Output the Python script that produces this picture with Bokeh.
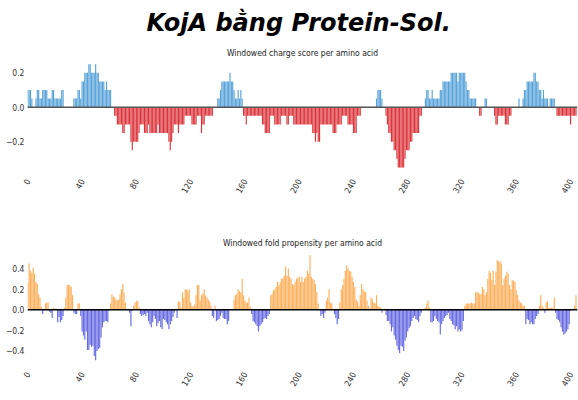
import math
from bokeh.plotting import figure
from bokeh.models import Title, FixedTicker, Span, ColumnDataSource, Range1d
from bokeh.layouts import column
from bokeh.embed import file_html
from bokeh.resources import INLINE

# ---------------- data ----------------
residues = list(range(405))

charge = [
    0.1, 0.1, 0.1, 0.05, 0, 0, 0.05, 0.1, 0.1, 0.05, 0.05, 0.1, 0.1, 0.1, 0.1, 0.05, 0.05, 0.05, 0.1, 0.1,
    0.05, 0.05, 0.05, 0.05, 0.05, 0.1, 0.1, 0, 0, 0, 0, 0, 0, 0, 0.05, 0.05, 0.05, 0.1, 0.1, 0.05,
    0.15, 0.15, 0.2, 0.2, 0.2, 0.25, 0.25, 0.2, 0.2, 0.2, 0.25, 0.2, 0.2, 0.15, 0.15, 0.15, 0.15, 0.1, 0.15, 0.1,
    0.1, 0.1, 0, 0, -0.05, -0.05, -0.1, -0.1, -0.1, -0.1, -0.15, -0.15, -0.1, -0.1, -0.1, -0.1, -0.2, -0.25, -0.2, -0.2,
    -0.2, -0.2, -0.15, -0.1, -0.1, -0.1, -0.15, -0.15, -0.15, -0.1, -0.15, -0.15, -0.15, -0.15, -0.15, -0.15, -0.1, -0.15, -0.15, -0.15,
    -0.15, -0.15, -0.15, -0.15, -0.2, -0.25, -0.2, -0.15, -0.1, -0.1, -0.1, -0.15, -0.1, -0.1, -0.1, -0.1, -0.05, -0.05, -0.05, -0.05,
    -0.05, -0.1, -0.1, -0.1, -0.1, -0.05, -0.05, -0.05, -0.15, -0.1, -0.1, -0.05, -0.05, -0.05, -0.05, -0.05, -0.05, 0, 0, 0,
    0.05, 0.05, 0.1, 0.15, 0.15, 0.15, 0.15, 0.15, 0.15, 0.2, 0.15, 0.15, 0.1, 0.05, 0.05, 0.1, 0.05, 0.1, 0.05, -0.05,
    -0.05, -0.1, -0.05, -0.05, -0.05, -0.05, -0.05, -0.05, -0.05, -0.05, -0.05, -0.05, -0.05, -0.1, -0.1, -0.15, -0.15, -0.15, -0.15, -0.05,
    -0.05, -0.05, -0.1, -0.1, -0.1, -0.1, -0.1, -0.05, -0.05, -0.05, -0.05, -0.1, -0.1, -0.05, -0.05, -0.05, -0.1, -0.1, -0.1, -0.1,
    -0.1, -0.1, -0.1, -0.1, -0.1, -0.1, -0.1, -0.1, -0.1, -0.1, -0.15, -0.15, -0.2, -0.15, -0.2, -0.2, -0.1, -0.1, -0.1, -0.1,
    -0.1, -0.1, -0.1, -0.1, -0.1, -0.15, -0.15, -0.15, -0.1, -0.1, -0.1, -0.1, -0.05, -0.05, -0.05, -0.05, -0.1, -0.1, -0.1, -0.1,
    -0.15, -0.15, -0.15, -0.05, -0.05, -0.05, 0, 0, 0, 0, 0, 0, 0, 0, 0, 0, 0, 0.05, 0.1, 0.1,
    0.1, 0.05, 0, 0, -0.05, -0.1, -0.15, -0.15, -0.2, -0.2, -0.25, -0.25, -0.3, -0.35, -0.35, -0.35, -0.35, -0.35, -0.3, -0.25,
    -0.25, -0.25, -0.2, -0.2, -0.15, -0.15, -0.15, -0.15, -0.15, -0.05, -0.05, 0, 0, 0.05, 0.1, 0.1, 0.05, 0.05, 0.1, 0.05,
    0.05, 0.05, 0.05, 0.05, 0.1, 0.1, 0.15, 0.15, 0.15, 0.15, 0.15, 0.15, 0.2, 0.2, 0.2, 0.2, 0.2, 0.15, 0.2, 0.2,
    0.2, 0.2, 0.2, 0.15, 0.1, 0.1, 0.05, 0.05, 0.05, 0.05, 0.05, 0, 0, -0.05, -0.05, 0, 0, 0.05, 0.05, 0,
    0, 0, 0, 0, -0.05, -0.1, -0.1, -0.05, -0.05, -0.05, -0.05, -0.05, -0.1, -0.1, -0.1, -0.05, -0.05, 0, 0, 0,
    0, 0, 0.05, 0, 0, 0.05, 0.1, 0.1, 0.15, 0.15, 0.15, 0.15, 0.15, 0.2, 0.2, 0.15, 0.15, 0.1, 0.1, 0.05,
    0.1, 0.05, 0.05, 0.05, 0, 0.05, 0.05, 0.05, 0.05, 0, -0.05, -0.05, -0.05, -0.05, -0.05, -0.05, -0.05, -0.05, -0.05, -0.05,
    -0.1, -0.05, -0.05, -0.05, -0.05,
]

fold = [
    0.27, 0.45, 0.38, 0.36, 0.41, 0.35, 0.27, 0.25, 0.15, 0.12, 0.03, -0.04, 0.0, 0.06, 0.07, 0.07, -0.02, -0.03, -0.08, 0.02,
    0.01, 0.01, -0.12, -0.07, -0.12, -0.1, -0.06, 0.02, 0.12, 0.24, 0.24, 0.24, 0.22, 0.14, -0.03, -0.04, -0.04, 0.06, 0.06, -0.06,
    -0.21, -0.25, -0.29, -0.21, -0.39, -0.39, -0.34, -0.36, -0.35, -0.45, -0.49, -0.4, -0.38, -0.37, -0.27, -0.17, -0.12, -0.11, -0.11, -0.12,
    -0.01, 0.06, 0.15, 0.13, 0.12, 0.1, 0.09, 0.1, 0.15, 0.2, 0.25, 0.17, 0.07, 0.0, 0.0, -0.03, -0.16, -0.01, 0.04, 0.07,
    0.08, 0.09, 0.02, -0.04, -0.06, -0.05, -0.04, -0.06, -0.03, -0.11, -0.14, -0.17, -0.12, -0.06, -0.09, -0.16, -0.13, -0.11, -0.17, -0.19,
    -0.09, -0.1, -0.12, -0.14, -0.19, -0.14, -0.11, -0.07, -0.03, 0.0, -0.08, 0.08, 0.08, 0.02, 0.17, 0.12, 0.2, 0.2, 0.18, 0.2,
    0.07, 0.04, 0.03, 0.05, 0.14, 0.24, 0.24, 0.09, 0.14, 0.16, 0.2, 0.14, 0.12, 0.1, 0.08, 0.04, -0.06, -0.08, 0.04, -0.11,
    -0.1, -0.09, -0.06, -0.03, -0.08, -0.09, -0.09, -0.14, -0.11, 0.0, 0.0, 0.0, 0.1, 0.14, 0.15, 0.2, 0.18, 0.17, 0.3, 0.14,
    0.09, 0.07, 0.07, 0.12, 0.03, -0.04, -0.11, -0.12, -0.14, -0.16, -0.21, -0.16, -0.14, -0.12, -0.09, -0.08, -0.09, -0.06, -0.04, 0.14,
    0.15, 0.19, 0.2, 0.22, 0.27, 0.24, 0.27, 0.3, 0.31, 0.33, 0.42, 0.33, 0.4, 0.32, 0.3, 0.25, 0.24, 0.27, 0.3, 0.31,
    0.32, 0.27, 0.32, 0.27, 0.3, 0.32, 0.38, 0.35, 0.53, 0.32, 0.3, 0.29, 0.25, 0.17, 0.06, 0.0, -0.06, -0.04, -0.08, -0.03,
    0.09, 0.12, 0.2, 0.07, 0.06, 0.0, -0.04, -0.08, -0.14, -0.09, 0.07, 0.2, 0.24, 0.3, 0.38, 0.43, 0.4, 0.38, 0.37, 0.32,
    0.27, 0.22, 0.1, 0.08, 0.04, 0.14, 0.25, 0.2, 0.18, 0.17, 0.09, 0.04, 0.01, 0.12, 0.1, 0.07, 0.06, 0.14, 0.04, 0.03,
    0.02, -0.03, 0.0, 0.01, -0.05, -0.11, -0.11, -0.14, -0.21, -0.17, -0.25, -0.29, -0.35, -0.39, -0.42, -0.35, -0.36, -0.4, -0.3, -0.27,
    -0.21, -0.18, -0.16, -0.11, -0.08, -0.06, -0.09, -0.1, -0.12, -0.06, -0.03, 0.0, 0.01, 0.02, 0.06, 0.09, 0.02, -0.12, -0.12, -0.11,
    -0.06, -0.09, -0.11, -0.12, -0.24, -0.14, -0.11, -0.08, -0.06, -0.05, -0.03, -0.09, -0.11, -0.14, -0.15, -0.19, -0.16, -0.21, -0.19, -0.21,
    -0.2, -0.11, 0.04, 0.06, 0.06, 0.06, 0.06, 0.07, 0.06, 0.06, 0.17, 0.17, 0.17, 0.15, 0.15, 0.22, 0.2, 0.14, 0.17, 0.3,
    0.38, 0.36, 0.29, 0.38, 0.24, 0.37, 0.48, 0.47, 0.47, 0.45, 0.24, 0.3, 0.33, 0.37, 0.35, 0.24, 0.2, 0.29, 0.28, 0.27,
    0.19, 0.14, 0.09, 0.07, 0.06, 0.04, 0.04, -0.14, -0.09, -0.1, -0.14, -0.12, -0.14, -0.14, -0.09, -0.06, -0.04, 0.04, 0.14, 0.04,
    0.02, -0.03, 0.07, 0.08, 0.02, 0.02, 0.02, 0.02, 0.12, -0.03, -0.09, -0.1, -0.12, -0.17, -0.21, -0.24, -0.23, -0.21, -0.19, -0.14,
    -0.01, 0.0, 0.01, 0.04, 0.14,
]

x_ticks = [0, 40, 80, 120, 160, 200, 240, 280, 320, 360, 400]
charge_ticks = [-0.2, 0.0, 0.2]
fold_ticks = [-0.4, -0.2, 0.0, 0.2, 0.4]

main_title = "KojA bằng Protein-Sol."
charge_title = "Windowed charge score per amino acid"
fold_title = "Windowed fold propensity per amino acid"

CHARGE_POS, CHARGE_NEG = "#4a9bd6", "#d8242a"
FOLD_POS, FOLD_NEG = "#ffa94d", "#5a5ee0"
LABEL_FONT = "DejaVu Sans Condensed"


def tick_label(v):
    s = "%.1f" % v
    return s.replace("-", "\u2212")


def make_fig(values, ticks, yr, height, btop, bbot, pos_c, neg_c, zero_c, subtitle, sub_standoff):
    p = figure(width=578, height=height, output_backend="svg", toolbar_location=None,
               x_range=Range1d(-0.22, 405.1), y_range=Range1d(*yr),
               min_border_left=27, min_border_right=1,
               min_border_top=btop, min_border_bottom=bbot)
    p.grid.visible = False
    p.outline_line_color = None
    p.background_fill_color = "white"
    src = ColumnDataSource(dict(
        x=residues, v=values,
        c=[pos_c if v > 0 else neg_c for v in values]))
    p.vbar(x="x", top="v", bottom=0, width=0.85, source=src,
           fill_color="c", line_color=None, fill_alpha=0.92)
    p.add_layout(Span(location=0, dimension="width", line_color=zero_c, line_width=1.5))

    for ax in (p.xaxis[0], p.yaxis[0]):
        ax.axis_line_color = None
        ax.major_tick_line_color = None
        ax.minor_tick_line_color = None
        ax.major_tick_out = 0
        ax.major_tick_in = 0
        ax.minor_tick_out = 0
        ax.minor_tick_in = 0
        ax.major_label_text_font = LABEL_FONT
        ax.major_label_text_font_size = "8.5px"
        ax.major_label_text_color = "#333333"
    p.xaxis[0].ticker = FixedTicker(ticks=x_ticks)
    p.xaxis[0].major_label_orientation = math.pi / 3
    p.xaxis[0].major_label_standoff = 10
    p.yaxis[0].ticker = FixedTicker(ticks=ticks)
    p.yaxis[0].major_label_overrides = {t: tick_label(t) for t in ticks}
    p.yaxis[0].major_label_standoff = 3

    p.add_layout(Title(text=subtitle, align="center", text_font=LABEL_FONT,
                       text_font_size="8.5px", text_font_style="normal",
                       text_color="#222222", standoff=sub_standoff), "above")
    return p


p1 = make_fig(charge, charge_ticks, (-0.362, 0.2715), 225, 60, 56,
              CHARGE_POS, CHARGE_NEG, "#555555", charge_title, 6)
p1.add_layout(Title(text=main_title, align="left", text_font="DejaVu Sans",
                    text_font_size="24px", text_font_style="bold italic",
                    text_color="black", offset=119, standoff=12), "above")

p2 = make_fig(fold, fold_ticks, (-0.512, 0.556), 175, 27, 38,
              FOLD_POS, FOLD_NEG, "black", fold_title, 10)

layout = column(p1, p2)
open("out.html", "w").write(file_html(layout, INLINE))
